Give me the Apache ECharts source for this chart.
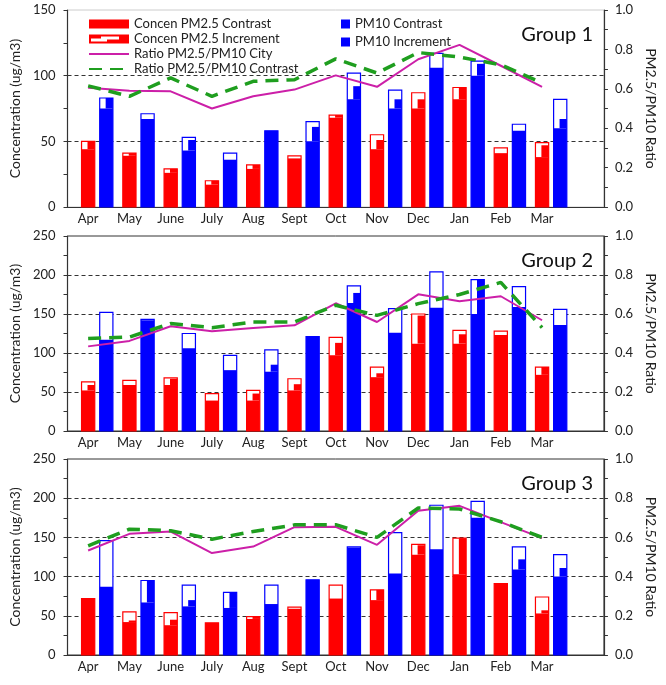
<!DOCTYPE html>
<html>
<head>
<meta charset="utf-8">
<script src="https://cdn.jsdelivr.net/npm/echarts@6/dist/echarts.min.js"></script>
<style>
html, body { margin: 0; padding: 0; background: #fff; }
#chart { width: 666px; height: 685px; }
</style>
</head>
<body>
<div id="chart"></div>
<script>
// category axis has a 13th empty slot, like the original
const months = ['Apr', 'May', 'June', 'July', 'Aug', 'Sept', 'Oct', 'Nov', 'Dec', 'Jan', 'Feb', 'Mar', '']
const groups = ['Group 1', 'Group 2', 'Group 3']
const leftMax = [150, 250, 250]

// Group 1
const g1Pm25Total = [50, 41, 29, 20, 32, 39, 70, 55, 87, 91, 45, 49]
const g1Pm25Contrast = [44, 39, 26, 17, 29, 37, 68, 44, 75, 82, 41, 38]
const g1Pm25Mid = [50, 41, 29, 20, 32, 37, 70, 51, 82, 91, 41, 47]
const g1Pm10Total = [83, 71, 53, 41, 58, 65, 102, 89, 117, 111, 63, 82]
const g1Pm10Contrast = [75, 67, 43, 36, 58, 50, 82, 75, 106, 100, 58, 60]
const g1Pm10Mid = [83, 67, 51, 36, 58, 61, 92, 82, 106, 109, 58, 67]
const g1RatioCity = [0.605, 0.59, 0.587, 0.50, 0.562, 0.596, 0.668, 0.61, 0.75, 0.823, 0.717, 0.61]
const g1RatioContrast = [0.615, 0.562, 0.655, 0.562, 0.638, 0.646, 0.752, 0.68, 0.784, 0.761, 0.722, 0.63]

// Group 2
const g2Pm25Total = [63, 65, 68, 48, 52, 67, 120, 82, 150, 129, 128, 82]
const g2Pm25Contrast = [52, 59, 59, 39, 39, 52, 97, 69, 112, 112, 123, 72]
const g2Pm25Mid = [59, 59, 67, 39, 48, 60, 113, 74, 148, 124, 123, 82]
const g2Pm10Total = [152, 143, 125, 97, 104, 121, 186, 157, 204, 194, 185, 156]
const g2Pm10Contrast = [117, 142, 106, 78, 76, 121, 164, 126, 158, 150, 159, 136]
const g2Pm10Mid = [117, 142, 106, 78, 85, 121, 177, 126, 158, 194, 159, 136]
const g2RatioCity = [0.434, 0.462, 0.537, 0.511, 0.528, 0.542, 0.655, 0.559, 0.701, 0.665, 0.691, 0.568]
const g2RatioContrast = [0.474, 0.482, 0.551, 0.53, 0.559, 0.559, 0.645, 0.593, 0.653, 0.70, 0.762, 0.53]

// Group 3
const g3Pm25Total = [72, 55, 54, 41, 49, 61, 89, 83, 141, 149, 91, 74]
const g3Pm25Contrast = [72, 42, 38, 41, 46, 59, 72, 70, 128, 103, 91, 53]
const g3Pm25Mid = [72, 44, 45, 41, 49, 59, 72, 83, 140, 149, 91, 57]
const g3Pm10Total = [146, 95, 89, 80, 89, 96, 138, 156, 191, 196, 138, 128]
const g3Pm10Contrast = [87, 67, 62, 60, 65, 96, 137, 104, 135, 175, 109, 100]
const g3Pm10Mid = [87, 95, 70, 80, 65, 96, 137, 104, 135, 175, 122, 111]
const g3RatioCity = [0.533, 0.618, 0.63, 0.52, 0.553, 0.652, 0.654, 0.562, 0.736, 0.761, 0.678, 0.596]
const g3RatioContrast = [0.557, 0.642, 0.634, 0.591, 0.63, 0.664, 0.665, 0.60, 0.75, 0.745, 0.68, 0.60]

const panels = [
    { pm25: [g1Pm25Total, g1Pm25Contrast, g1Pm25Mid], pm10: [g1Pm10Total, g1Pm10Contrast, g1Pm10Mid], city: g1RatioCity, contrast: g1RatioContrast },
    { pm25: [g2Pm25Total, g2Pm25Contrast, g2Pm25Mid], pm10: [g2Pm10Total, g2Pm10Contrast, g2Pm10Mid], city: g2RatioCity, contrast: g2RatioContrast },
    { pm25: [g3Pm25Total, g3Pm25Contrast, g3Pm25Mid], pm10: [g3Pm10Total, g3Pm10Contrast, g3Pm10Mid], city: g3RatioCity, contrast: g3RatioContrast }
]

const RED = '#ff0000'
const BLUE = '#0000ff'
const MAGENTA = '#cc1fa8'
const GREEN = '#1f9e1f'
const FONT = 'Lato'
const AXIS = '#333'

const grids = [
    { left: 61, right: 54, top: 10, height: 197 },
    { left: 61, right: 57, top: 236, height: 195 },
    { left: 61, right: 57, top: 459, height: 196 }
]

function outlineBar (shift) {
    return function (params, api) {
        const idx = api.value(0)
        const band = api.size([1, 0])[0]
        const w = band * 0.32
        const base = api.coord([idx, 0])
        const top = api.coord([idx, api.value(1)])
        return {
            type: 'rect',
            shape: { x: base[0] + shift * band - w / 2, y: top[1], width: w, height: base[1] - top[1] },
            style: { fill: '#fff', stroke: api.visual('color'), lineWidth: 1.2 }
        }
    }
}

function solidBar (shift) {
    return function (params, api) {
        const idx = api.value(0)
        const band = api.size([1, 0])[0]
        const w = band * 0.32
        const base = api.coord([idx, 0])
        const low = api.coord([idx, api.value(1)])
        const high = api.coord([idx, api.value(2)])
        const x = base[0] + shift * band - w / 2
        const color = api.visual('color')
        return {
            type: 'group',
            children: [
                { type: 'rect', shape: { x: x, y: low[1], width: w, height: base[1] - low[1] }, style: { fill: color } },
                { type: 'rect', shape: { x: x + w * 0.45, y: high[1], width: w * 0.55, height: low[1] - high[1] }, style: { fill: color } }
            ]
        }
    }
}

const xAxis = []
const yAxis = []
const series = []
const title = []

panels.forEach((p, k) => {
    xAxis.push({
        type: 'category',
        gridIndex: k,
        data: months,
        axisLine: { lineStyle: { color: AXIS, width: 1.2 } },
        axisTick: { show: false },
        axisLabel: { interval: 0, color: '#222', fontFamily: FONT, fontSize: 13, margin: 5 }
    })
    yAxis.push({
        type: 'value',
        gridIndex: k,
        min: 0,
        max: leftMax[k],
        interval: 50,
        name: 'Concentration (ug/m3)',
        nameLocation: 'middle',
        nameGap: 38,
        nameTextStyle: { color: '#222', fontFamily: FONT, fontSize: 14 },
        axisLine: { show: true, lineStyle: { color: AXIS, width: 1.2 } },
        axisTick: { show: true, length: 4, lineStyle: { color: AXIS } },
        minorTick: { show: true, splitNumber: 2, length: 4, lineStyle: { color: AXIS } },
        axisLabel: { color: '#222', fontFamily: FONT, fontSize: 13, margin: 12 },
        splitLine: { show: true, showMinLine: false, showMaxLine: false, lineStyle: { color: '#333', type: [4, 3] } }
    })
    yAxis.push({
        type: 'value',
        gridIndex: k,
        position: 'right',
        min: 0,
        max: 1,
        interval: 0.2,
        name: 'PM2.5/PM10 Ratio',
        nameLocation: 'middle',
        nameRotate: -90,
        nameGap: 34,
        nameTextStyle: { color: '#222', fontFamily: FONT, fontSize: 14 },
        axisLine: { show: true, lineStyle: { color: AXIS, width: 1.2 } },
        axisTick: { show: true, length: 4, lineStyle: { color: AXIS } },
        minorTick: { show: true, splitNumber: 2, length: 4, lineStyle: { color: AXIS } },
        axisLabel: { color: '#222', fontFamily: FONT, fontSize: 13, margin: 11, formatter: v => v.toFixed(1) },
        splitLine: { show: false }
    })
    title.push({
        text: groups[k],
        right: 68,
        top: grids[k].top + 10,
        textStyle: { color: '#111', fontFamily: FONT, fontSize: 20, fontWeight: 'normal' }
    })
    const axes = { xAxisIndex: k, yAxisIndex: 2 * k }
    series.push({
        name: 'Concen PM2.5 Increment',
        type: 'custom',
        ...axes,
        z: 2,
        itemStyle: { color: RED },
        renderItem: outlineBar(0),
        data: p.pm25[0].map((v, i) => [i, v])
    })
    series.push({
        name: 'Concen PM2.5 Contrast',
        type: 'custom',
        ...axes,
        z: 3,
        itemStyle: { color: RED },
        renderItem: solidBar(0),
        data: p.pm25[1].map((v, i) => [i, v, p.pm25[2][i]])
    })
    series.push({
        name: 'PM10 Increment',
        type: 'custom',
        ...axes,
        z: 2,
        itemStyle: { color: BLUE },
        renderItem: outlineBar(0.44),
        data: p.pm10[0].map((v, i) => [i, v])
    })
    series.push({
        name: 'PM10 Contrast',
        type: 'custom',
        ...axes,
        z: 3,
        itemStyle: { color: BLUE },
        renderItem: solidBar(0.44),
        data: p.pm10[1].map((v, i) => [i, v, p.pm10[2][i]])
    })
    series.push({
        name: 'Ratio PM2.5/PM10 City',
        type: 'line',
        xAxisIndex: k,
        yAxisIndex: 2 * k + 1,
        z: 5,
        symbol: 'none',
        lineStyle: { color: MAGENTA, width: 2 },
        itemStyle: { color: MAGENTA },
        data: p.city
    })
    series.push({
        name: 'Ratio PM2.5/PM10 Contrast',
        type: 'line',
        xAxisIndex: k,
        yAxisIndex: 2 * k + 1,
        z: 6,
        symbol: 'none',
        lineStyle: { color: GREEN, width: 3.5, type: [13, 8] },
        itemStyle: { color: GREEN },
        data: p.contrast
    })
})

const chart = echarts.init(document.getElementById('chart'))
chart.setOption({
    animation: false,
    title: title,
    grid: grids.map((g, k) => Object.assign({ show: true, borderColor: k === 0 ? '#ccc' : AXIS, borderWidth: 1 }, g)),
    legend: [
        {
            orient: 'vertical',
            left: 83,
            top: 12,
            itemWidth: 40,
            itemHeight: 9,
            itemGap: 1,
            textStyle: { color: '#222', fontFamily: FONT, fontSize: 13, lineHeight: 14 },
            data: [
                { name: 'Concen PM2.5 Contrast', icon: 'rect' },
                { name: 'Concen PM2.5 Increment', icon: 'path://M0,0H40V9H0Z M2,4V7H18V5H30V2H12V4Z' },
                { name: 'Ratio PM2.5/PM10 City', itemStyle: { opacity: 0 } },
                { name: 'Ratio PM2.5/PM10 Contrast', itemStyle: { opacity: 0 } }
            ]
        },
        {
            orient: 'vertical',
            left: 336,
            top: 12,
            itemWidth: 9,
            itemHeight: 9,
            itemGap: 4,
            textStyle: { color: '#222', fontFamily: FONT, fontSize: 13, lineHeight: 14 },
            data: [
                { name: 'PM10 Contrast', icon: 'rect' },
                { name: 'PM10 Increment', icon: 'rect' }
            ]
        }
    ],
    xAxis: xAxis,
    yAxis: yAxis,
    series: series
})
</script>
</body>
</html>
